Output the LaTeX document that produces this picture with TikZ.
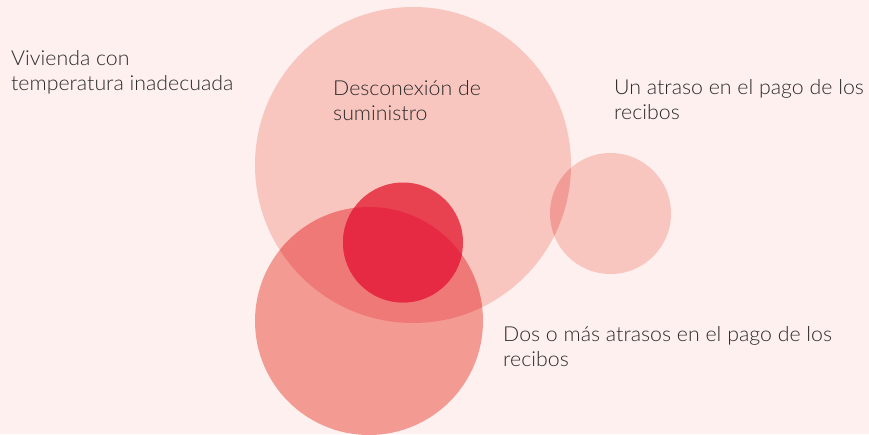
\documentclass[tikz,border=0pt]{standalone}
\usepackage{fontspec}
\setmainfont{Lato}[UprightFont=* Light,FakeStretch=1.035]
\definecolor{bgc}{HTML}{FDF0EF}
\definecolor{pk}{HTML}{F8C5BF}
\definecolor{pkov}{HTML}{F29C98}
\definecolor{sal}{HTML}{F39A92}
\definecolor{salov}{HTML}{EF7977}
\definecolor{redA}{HTML}{E8414F}
\definecolor{redB}{HTML}{E72A43}
\definecolor{txt}{HTML}{2B2B2B}
\begin{document}
\begin{tikzpicture}[x=1pt,y=-1pt,
  disc/.style={circle,inner sep=0pt,draw=none},
  lbl/.style={anchor=base west,inner sep=0pt,text=txt,font=\fontsize{20.6}{25}\selectfont}]
\useasboundingbox (0,0) rectangle (869,434);
\fill[bgc] (0,0) rectangle (869,434);
\node[disc,fill=pk,minimum size=316pt] (big) at (413,165) {};
\node[disc,fill=pk,minimum size=121pt] (right) at (610.5,213.5) {};
\begin{scope}
  \clip (big.center) circle (158pt);
  \fill[pkov] (right.center) circle (60.5pt);
\end{scope}
\node[disc,fill=sal,minimum size=228pt] (low) at (369,321) {};
\begin{scope}
  \clip (big.center) circle (158pt);
  \fill[salov] (low.center) circle (114pt);
\end{scope}
\node[disc,fill=redA,minimum size=120pt] (core) at (403,242.5) {};
\begin{scope}
  \clip (low.center) circle (114pt);
  \fill[redB] (core.center) circle (60pt);
\end{scope}
\node[lbl] (v1) at (11,65) {Vivienda con};
\node[lbl] (v2) at (11,90) {temperatura inadecuada};
\node[lbl] (d1) at (333,95) {Desconexión de};
\node[lbl] (d2) at (333,120) {suministro};
\node[lbl] (u1) at (614,94) {Un atraso en el pago de los};
\node[lbl] (u2) at (614,119) {recibos};
\node[lbl] (m1) at (503,341) {Dos o más atrasos en el pago de los};
\node[lbl] (m2) at (503,366) {recibos};
\end{tikzpicture}
\end{document}
